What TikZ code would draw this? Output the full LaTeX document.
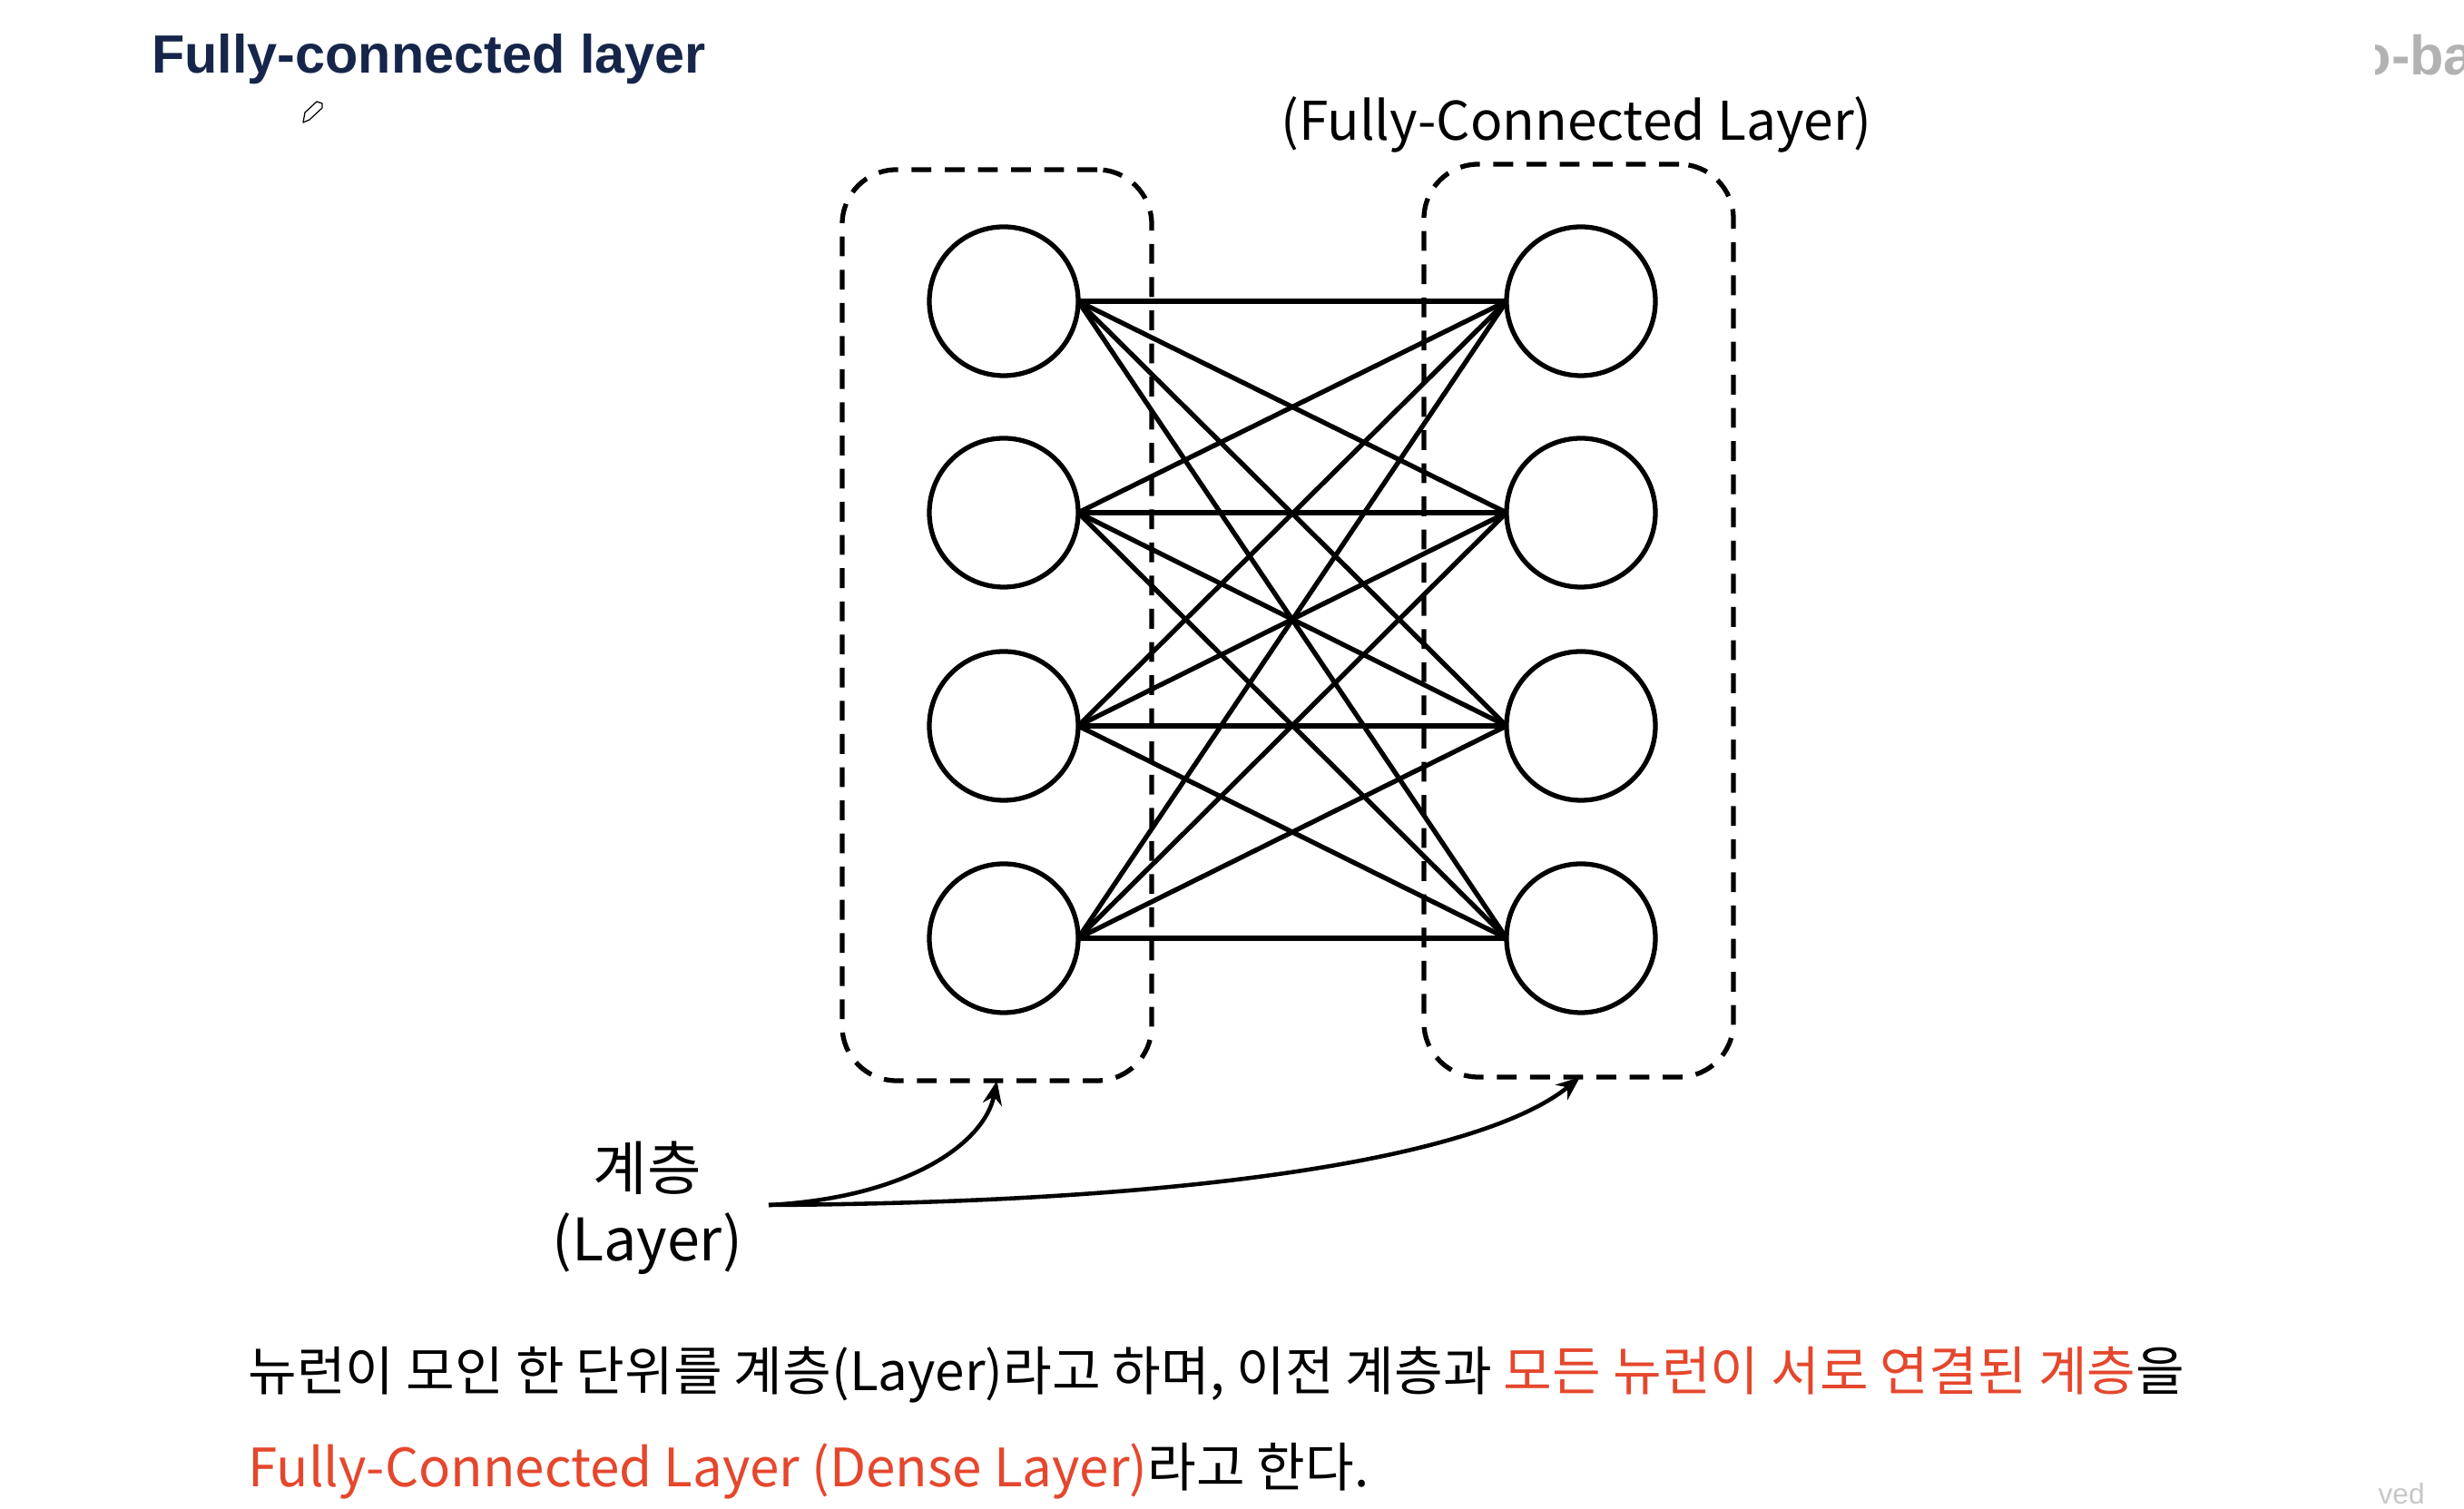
\documentclass[tikz,border=0pt]{standalone}
\usepackage{fontspec}
\setmainfont{Liberation Sans}
\newfontfamily\krfont{Noto Sans CJK KR}
\usetikzlibrary{arrows.meta}
\definecolor{titlecol}{HTML}{16264A}
\definecolor{redcol}{HTML}{E5472D}
\begin{document}
\begin{tikzpicture}[line width=1.5pt,
    neuron/.style={circle, draw, minimum size=1.64cm, inner sep=0pt, outer sep=0pt},
    layerbox/.style={draw, dashed, dash pattern=on 6.2pt off 4.2pt, rounded corners=0.6cm,
      minimum width=3.41cm, inner sep=0pt, outer sep=0pt},
    figtext/.style={font=\krfont\fontsize{18.4}{22}\selectfont, inner sep=0pt},
    bodytext/.style={font=\krfont\fontsize{16.6}{21}\selectfont, inner sep=0pt, anchor=base west},
    pointer/.style={-{Stealth[length=7.5pt, width=6pt]}, line width=1.3pt}]
  \useasboundingbox (0,0) rectangle (27.15,16.63);
  % Page heading and the cut-off marks at the page edge
  \node[font=\bfseries\fontsize{16.9}{21}\selectfont, text=titlecol, anchor=base west, inner sep=0pt]
    (heading) at (1.645,15.82) {Fully-connected layer};
  \begin{scope}
    \clip (26.17,15.6) rectangle (27.15,16.63);
    \node[font=\bfseries\fontsize{17.4}{21}\selectfont, text=black!30, anchor=base west, inner sep=0pt]
      (mark) at (25.95,15.80) {o-ba};
  \end{scope}
  \node[font=\fontsize{9}{10}\selectfont, text=black!22, anchor=base west, inner sep=0pt]
    (markb) at (26.18,0.05) {ved};
  % Pencil cursor
  \draw[line width=0.35pt, line join=round] (3.34,15.28) -- (3.36,15.39) -- (3.49,15.51)
    -- (3.55,15.49) -- (3.55,15.44) -- (3.41,15.31) -- cycle;
  % Dashed layer boxes
  \node[layerbox, minimum height=10.04cm] (boxa) at (10.985,9.74) {};
  \node[layerbox, minimum height=10.06cm] (boxb) at (17.395,9.79) {};
  \node[figtext, font=\krfont\fontsize{16.7}{20}\selectfont, anchor=base] (fclabel) at (17.37,15.08) {(Fully-Connected Layer)};
  % Neurons, one row at a time
  \foreach \row/\ypos in {1/13.31, 2/10.98, 3/8.63, 4/6.29} {
    \node[neuron] (a\row) at (11.06,\ypos) {};
    \node[neuron] (b\row) at (17.42,\ypos) {};
  }
  % Every left neuron to every right neuron
  \foreach \i in {1,2,3,4}
    \foreach \j in {1,2,3,4}
      \draw (a\i.east) -- (b\j.west);
  % Layer label and its two pointers
  \node[figtext] (layerko) at (7.13,3.76) {계층};
  \node[figtext, anchor=base] (layeren) at (7.13,2.73) {(Layer)};
  \coordinate (pointstart) at (8.47,3.35);
  \draw[pointer] (pointstart) .. controls (10.00,3.43) and (10.85,4.03) .. (boxa.south);
  \draw[pointer] (pointstart) .. controls (13.50,3.38) and (16.40,3.93) .. (17.41,4.76);
  % Caption
  \node[bodytext] (captiona) at (2.71,1.30) {뉴런이 모인 한 단위를 계층(Layer)라고 하며, 이전 계층과 \textcolor{redcol}{모든 뉴런이 서로 연결된 계층}을};
  \node[bodytext] (captionb) at (2.71,0.24) {\textcolor{redcol}{Fully-Connected Layer (Dense Layer)}라고 한다.};
\end{tikzpicture}
\end{document}
